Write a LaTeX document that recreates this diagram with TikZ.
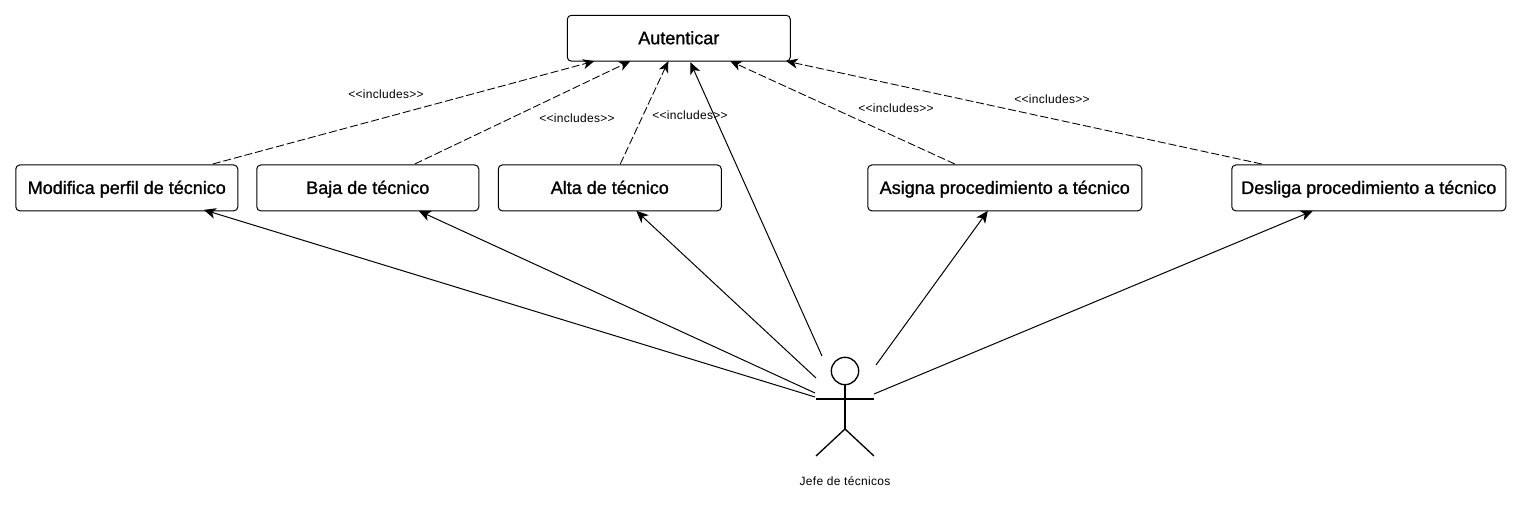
\documentclass[tikz,border=0pt]{standalone}
\usepackage{fontspec}
\setmainfont{Liberation Sans}
\newfontfamily\boxfont[FakeBold=1.2]{Liberation Sans}
\newfontfamily\lblfont[LetterSpace=2.5]{Liberation Sans}
\usetikzlibrary{arrows.meta,calc}
\tikzset{
  x=0.75pt,y=-0.75pt,
  usecase/.style={draw=black,line width=0.75pt,rounded corners=3pt,fill=white,anchor=north west,inner sep=0pt,outer sep=0pt,
    minimum height=34.4pt,text height=12pt,text depth=3pt,
    font=\boxfont\fontsize{13.5}{15}\selectfont,text=black},
  inc/.style={draw=black,line width=0.65pt,dash pattern=on 6pt off 2.2pt,-{Stealth[length=8.5pt,width=7.5pt,inset=2.5pt]}},
  assoc/.style={draw=black,line width=0.75pt,-{Stealth[length=9pt,width=8pt,inset=2.5pt]}},
  lbl/.style={font=\lblfont\fontsize{9}{11}\selectfont,text=black,inner sep=0pt},
  actorline/.style={draw=black,line width=1pt}
}
\begin{document}
\begin{tikzpicture}
\useasboundingbox (0,0) rectangle (1522,506);
\fill[white] (0,0) rectangle (1522,506);
% use cases
\node[usecase,minimum width=167.25pt] (aut) at (567.3,15.3) {Autenticar};
\node[usecase,minimum width=166.5pt] (mod) at (15.8,165) {Modifica perfil de técnico};
\node[usecase,minimum width=166.5pt] (baj) at (256.8,165) {Baja de técnico};
\node[usecase,minimum width=167.25pt] (alt) at (498.3,165) {Alta de técnico};
\node[usecase,minimum width=205.5pt] (asi) at (867.8,165) {Asigna procedimiento a técnico};
\node[usecase,minimum width=205.5pt] (des) at (1231.8,165) {Desliga procedimiento a técnico};
% actor
\node[circle,draw=black,line width=1pt,minimum size=20.5pt,inner sep=0pt,outer sep=0pt] (head) at (845,371) {};
\coordinate (hip) at (845,429);
\coordinate (armL) at (816,399);
\coordinate (armR) at (874,399);
\coordinate (footL) at (816,456);
\coordinate (footR) at (874,456);
\draw[actorline] (head.south) -- (hip);
\draw[actorline] (armL) -- (armR);
\draw[actorline] (footL) -- (hip) -- (footR);
\node[lbl] (actname) at (845,481) {Jefe de técnicos};
% free ends at the actor
\coordinate (fMod) at (815,397);
\coordinate (fBaj) at (815,393);
\coordinate (fAlt) at (816,378);
\coordinate (fAut) at (822,356);
\coordinate (fAsi) at (876,365);
\coordinate (fDes) at (874,394);
% associations
\draw[assoc] (fMod) -- ($(mod.south west)+(188,-1)$);
\draw[assoc] (fBaj) -- ($(baj.south west)+(162,0)$);
\draw[assoc] (fAlt) -- ($(alt.south west)+(138,0)$);
\draw[assoc] (fAut) -- ($(aut.south west)+(123,1)$);
\draw[assoc] (fAsi) -- ($(asi.south west)+(120,0)$);
\draw[assoc] (fDes) -- ($(des.south west)+(81,0)$);
% includes
\draw[inc] ($(mod.north west)+(197,-1)$) -- ($(aut.south west)+(27,0)$);
\draw[inc] ($(baj.north west)+(158,-1)$) -- ($(aut.south west)+(63,0)$);
\draw[inc] ($(alt.north west)+(122,-1)$) -- ($(aut.south west)+(101,0)$);
\draw[inc] ($(asi.north west)+(87,-1)$) -- ($(aut.south west)+(163,0)$);
\draw[inc] ($(des.north west)+(30,-1)$) -- ($(aut.south west)+(219,0)$);
% labels
\node[lbl] (l1) at (386,94) {<{}<includes>{}>};
\node[lbl] (l2) at (577,118) {<{}<includes>{}>};
\node[lbl] (l3) at (690,115.5) {<{}<includes>{}>};
\node[lbl] (l4) at (896,108) {<{}<includes>{}>};
\node[lbl] (l5) at (1052,99.5) {<{}<includes>{}>};
\end{tikzpicture}
\end{document}
